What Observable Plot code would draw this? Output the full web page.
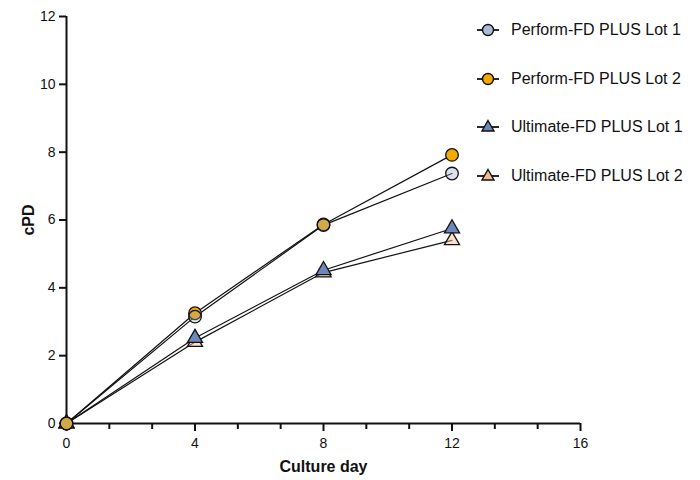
<!DOCTYPE html>
<html>
<head>
<meta charset="utf-8">
<script src="https://cdn.jsdelivr.net/npm/d3@7"></script>
<script src="https://cdn.jsdelivr.net/npm/@observablehq/plot@0.6"></script>
<style>
  body { margin: 0; background: #fff; font-family: "Liberation Sans", Arial, Helvetica, sans-serif; }
  #wrap { position: relative; width: 700px; height: 480px; }
  #legend { position: absolute; left: 475px; top: 18px; font-size: 16px; color: #111; }
  .row { display: flex; align-items: center; height: 24px; margin-bottom: 24.5px; white-space: nowrap; }
  .row svg { margin-right: 4px; }
</style>
</head>
<body>
<div id="wrap"><div id="legend"></div></div>
<script>
const days = [0, 4, 8, 12];
const seriesNames = ["Perform-FD PLUS Lot 1", "Perform-FD PLUS Lot 2", "Ultimate-FD PLUS Lot 1", "Ultimate-FD PLUS Lot 2"];
const performLot1 = [0, 3.15, 5.85, 7.37];
const performLot2 = [0, 3.25, 5.87, 7.92];
const ultimateLot1 = [0, 2.52, 4.52, 5.75];
const ultimateLot2 = [0, 2.40, 4.45, 5.40];
const xTicks = [0, 4, 8, 12, 16];
const xMinorTicks = [4/3, 8/3, 16/3, 20/3, 28/3, 32/3, 40/3, 44/3];
const yTicks = [0, 2, 4, 6, 8, 10, 12];

const styles = {
  "Perform-FD PLUS Lot 1": {symbol: "circle", fill: "#98a9cc", fillOpacity: 0.35, legendFill: "#aebbd6"},
  "Perform-FD PLUS Lot 2": {symbol: "circle", fill: "#f2a900", fillOpacity: 1, legendFill: "#f2a900"},
  "Ultimate-FD PLUS Lot 1": {symbol: "triangle", fill: "#6d88bd", fillOpacity: 1, legendFill: "#6d88bd"},
  "Ultimate-FD PLUS Lot 2": {symbol: "triangle", fill: "#f4c29c", fillOpacity: 0.5, legendFill: "#f2bb92"}
};
const values = [performLot1, performLot2, ultimateLot1, ultimateLot2];
const data = seriesNames.flatMap((s, i) => days.map((d, j) => ({series: s, day: d, cpd: values[i][j]})));
const drawOrder = ["Ultimate-FD PLUS Lot 2", "Ultimate-FD PLUS Lot 1", "Perform-FD PLUS Lot 2", "Perform-FD PLUS Lot 1"];

const dotMarks = drawOrder.map(s => Plot.dot(data.filter(d => d.series === s), {
  x: "day", y: "cpd", symbol: () => styles[s].symbol, r: styles[s].symbol === "circle" ? 6.3 : 5.6,
  fill: styles[s].fill, fillOpacity: styles[s].fillOpacity, stroke: "#111", strokeWidth: 1.3
}));

const chart = Plot.plot({
  width: 700, height: 480,
  marginLeft: 66, marginRight: 120, marginTop: 16, marginBottom: 57,
  style: {fontFamily: "'Liberation Sans', Arial, Helvetica, sans-serif", fontSize: "14px", color: "#111"},
  x: {domain: [0, 16]},
  y: {domain: [0, 12]},
  symbol: {type: "identity"},
  marks: [
    Plot.axisX({ticks: xMinorTicks, tickSize: 6, tickFormat: () => "", label: null, strokeWidth: 2}),
    Plot.axisX({ticks: xTicks, tickSize: 8, tickPadding: 7, strokeWidth: 2, label: "Culture day", labelAnchor: "center", labelArrow: false, labelOffset: 48}),
    Plot.axisY({ticks: yTicks, tickSize: 7, tickPadding: 4, strokeWidth: 2, label: "cPD", labelAnchor: "center", labelArrow: false, labelOffset: 44}),
    Plot.ruleY([0], {stroke: "#111", strokeWidth: 2}),
    Plot.ruleX([0], {stroke: "#111", strokeWidth: 2}),
    Plot.line(data, {x: "day", y: "cpd", z: "series", stroke: "#111", strokeWidth: 1.2}),
    ...dotMarks
  ]
});
document.getElementById("wrap").prepend(chart);
chart.querySelectorAll("[aria-label='x-axis label'], [aria-label='y-axis label']").forEach(g => {
  g.setAttribute("font-weight", "bold"); g.setAttribute("font-size", "16");
  g.querySelectorAll("text").forEach(t => { t.setAttribute("font-weight", "bold"); t.setAttribute("font-size", "16"); });
});

const legend = d3.select("#legend");
seriesNames.forEach(s => {
  const st = styles[s];
  const row = legend.append("div").attr("class", "row");
  const svg = row.append("svg").attr("width", 32).attr("height", 24);
  svg.append("line").attr("x1", 2).attr("x2", 24).attr("y1", 12).attr("y2", 12).attr("stroke", "#111").attr("stroke-width", 1.8);
  if (st.symbol === "circle") {
    svg.append("circle").attr("cx", 13).attr("cy", 12).attr("r", 5.5).attr("fill", st.legendFill).attr("stroke", "#111").attr("stroke-width", 1.4);
  } else {
    svg.append("path").attr("d", "M13,5.5 L19,16 L7,16 Z").attr("fill", st.legendFill).attr("stroke", "#111").attr("stroke-width", 1.4);
  }
  row.append("span").text(s);
});
</script>
</body>
</html>
